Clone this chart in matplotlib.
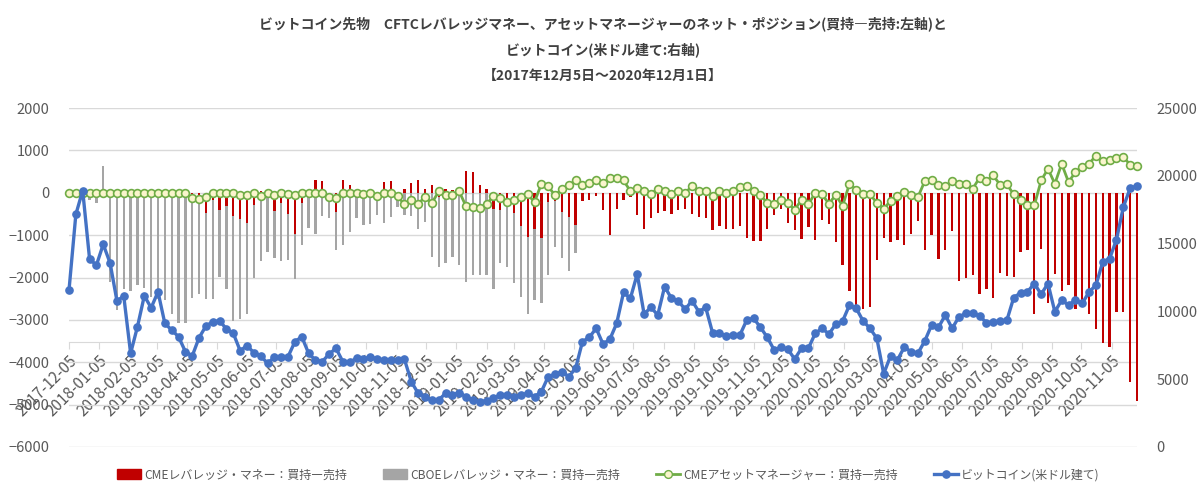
import numpy as np
import pandas as pd
import matplotlib
matplotlib.use('Agg')
import matplotlib.pyplot as plt
from matplotlib.patches import Patch
from matplotlib.lines import Line2D

plt.rcParams['font.family'] = ['Noto Sans CJK JP', 'DejaVu Sans']

# weekly dates, 2017-12-05 .. 2020-12-01
dates = pd.date_range('2017-12-05', periods=157, freq='7D')

# CME leveraged money, net (long - short)
cme_lev = ([0] * 18 +
           [-55, -260, -480, -160, -417, -322, -558, -628, -710, -282,
            45, 0, -432, -240, -511, -966, -240, 0, 306, 270] +
           [0, -460, 306, 190, 0, 0, 0, 0, 250, 270, 0, 94, 228, 310, 85,
            190, -110, 90, 55, 0, 503, 487, 192, 100, -393, -416, -200,
            -479, -794, -1050, -860, -1076, -220, -190, -447, -580, -750,
            -192, -160] +
           [-75, -397, -1005, -377, -180, -90, -527, -849, -605, -487, -436,
            -495, -409, -377, -511, -566, -589, -888, -790, -849, -860, -778,
            -1076, -1139, -1143, -860, -534, -393, -715, -880, -1098, -807,
            -1105, -651, -745, -1160, -1712, -2330, -2700, -2750, -2700] +
           [-1592, -1058, -1160, -1121, -1223, -964, -666, -1356, -988,
            -1552, -1356, -902, -2074, -2004, -1950, -2395, -2274, -2475,
            -1902, -1972, -1980, -1396, -1356, -2850, -1317, -2600, -1918,
            -2330, -2184, -2733, -2705, -2850, -3205, -3550, -3645, -2811,
            -2811, -4457, -4904])

# CBOE leveraged money, net (stops mid 2019)
cboe_lev = ([0, 0, 0, -165, -244, 622, -2100, -2770, -2280, -2310, -2180,
             -2250, -2450, -2500, -2520, -2850, -3080, -3080, -2490, -2390,
             -2510, -2510, -1990, -2280, -3020, -2990, -2870, -2010] +
            [-1600, -1400, -1540, -1600, -1580, -2030, -1240, -830, -970, -560] +
            [-600, -1340, -1240, -930, -600, -760, -730, -520, -720, -570,
             -340, -530, -560, -850, -700, -1520, -1750, -1650, -1520, -1700,
             -2100, -1940, -1940, -1950, -2280, -1650, -1750, -2140, -2450,
             -2860, -2530, -2600, -1950, -1280, -1550, -1850, -1420] +
            [np.nan] * 82)

# CME asset manager, net
cme_am = ([0] * 18 +
          [-130, -140, -110, 0, 0, 0, 0, -60, -60, 0, -70, 0, -60, 0, -40,
           -60, 0, 0, 0, 0, -90, -118, 0, 0, 0, -39, 0, -71, 0, 0, -86] +
          [-275, -181, -260, -102, -244, 31, -63, -63, 31, -323, -338, -354,
           -260, -87, -118, -220, -181, -102, -39, -220, 213, 150, -63, 94,
           173, 291, 189, 228] +
          [307, 228, 346, 346, 291, 39, 118, 39, -24, 94, 31, -24, 31, 0,
           150, 39, 39, -71, 39, 0, 39, 134, 150, 39, -63, -236, -260, -165,
           -236, -402] +
          [-165, -274, 0, -39, -259, -47, -314, 212] +
          [70, -24, -39, -235, -376, -196, -86, 16, -63, -102, 274, 306, 172,
           157, 267, 212, 212, 94, 353, 274, 408, 188, 196, -39, -165, -298,
           -298, 290, 564, 212, 682, 251, 486, 619, 682, 878, 745, 776, 823,
           839, 666, 627])

# bitcoin price in USD
btc = ([11564, 17150, 18914, 13890, 13400, 14945, 13573, 10780, 11123, 6909,
        8869, 11148, 10266, 11442, 9114, 8624, 8134, 7032, 6713, 8060, 8918,
        9237, 9310, 8698, 8379, 7105, 7473, 6958, 6713, 6174, 6615, 6664,
        6664, 7767, 8134, 6908, 6400, 6300, 6859] +
       [7277, 6297, 6250, 6540, 6500, 6640, 6500, 6420, 6400, 6400, 6466] +
       [4818, 3958, 3712, 3466, 3466, 3958, 3835, 4007, 3712, 3466, 3343,
        3417, 3589, 3835, 3835, 3663, 3835, 3958, 3712, 4081, 5187, 5359,
        5556, 5187, 5801, 7768, 8088, 8752, 7597, 7941, 9121, 11406, 10963,
        12759] +
       [9808, 10299, 9734, 11824, 10963, 10767, 10152, 10791, 9980, 10299,
        8432, 8383, 8186, 8260, 8260, 9366, 9489, 8825, 8088, 7154, 7350,
        7203, 6490, 7277, 7277, 8379, 8747, 8330, 9065, 9286, 10462, 10216,
        9286, 8747, 8012, 5400] +
       [6713, 6419, 7350, 7032, 6909, 7816, 8992, 8820, 9727, 8747, 9604,
        9849, 9849, 9678, 9163, 9237, 9286, 9359, 11025, 11368, 11442, 12054,
        11270, 12054, 9972, 10829, 10462, 10829, 10584, 11442, 11932, 13647,
        13892, 15288, 17689, 19086, 19233])

assert len(cme_lev) == len(cboe_lev) == len(cme_am) == len(btc) == len(dates)

tick_dates = [pd.Timestamp(2017 + (11 + k) // 12, (11 + k) % 12 + 1, 5) for k in range(36)]
tick_labels = [d.strftime('%Y-%m-%d') for d in tick_dates]

labels = ['CMEレバレッジ・マネー：買持―売持', 'CBOEレバレッジ・マネー：買持―売持',
          'CMEアセットマネージャー：買持―売持', 'ビットコイン(米ドル建て)']
title_lines = ['ビットコイン先物　CFTCレバレッジマネー、アセットマネージャーのネット・ポジション(買持―売持:左軸)と',
               'ビットコイン(米ドル建て:右軸)',
               '【2017年12月5日～2020年12月1日】']

RED = '#C00000'
GREY = '#A5A5A5'
GREEN = '#70AD47'
BLUE = '#4472C4'
TXT = '#595959'
GRID = '#D9D9D9'
CREAM = '#FAF5CC'

fig = plt.figure(figsize=(12, 4.97), dpi=100)
ax = fig.add_axes([69 / 1200, 1 - 447 / 497, 1068 / 1200, 339 / 497])
ax2 = ax.twinx()

bw = 2.4
ax.bar(dates, cboe_lev, width=bw, color=GREY, zorder=2, clip_on=False)
ax.bar(dates, cme_lev, width=bw, color=RED, zorder=3, clip_on=False)
ax.plot(dates, cme_am, color=GREEN, lw=2.0, marker='o', ms=5.6,
        mfc=CREAM, mec=GREEN, mew=1.2, zorder=4, clip_on=False)
ax2.plot(dates, btc, color=BLUE, lw=2.4, marker='o', ms=5.2,
         mfc=BLUE, mec=BLUE, zorder=4, clip_on=False)

ax.set_xlim(dates[0], dates[-1])
ax.set_ylim(-6000, 2000)
ax.set_yticks(range(-6000, 2001, 1000))
ax2.set_ylim(0, 25000)
ax2.set_yticks(range(0, 25001, 5000))

ax.grid(axis='y', color=GRID, lw=1, zorder=0)
ax.set_axisbelow(True)
for s in ['top', 'left', 'right']:
    ax.spines[s].set_visible(False)
for s in ax2.spines.values():
    s.set_visible(False)

# category axis crosses the chart inside the plot area
ax.spines['bottom'].set_position(('data', -3530))
ax.spines['bottom'].set_color(GRID)
ax.spines['bottom'].set_zorder(0.5)
ax.set_xticks(tick_dates)
ax.set_xticklabels(tick_labels)
ax.tick_params(axis='x', length=5, color=GRID, labelcolor=TXT, labelsize=11, pad=2)
for lab in ax.get_xticklabels():
    lab.set_rotation(45)
    lab.set_ha('right')
    lab.set_rotation_mode('anchor')

ax.tick_params(axis='y', length=0, labelcolor=TXT, labelsize=10.5, pad=14)
ax2.tick_params(axis='y', length=0, labelcolor=TXT, labelsize=10.5, pad=14)

for k, line in enumerate(title_lines):
    fig.text(0.5025, 1 - (24 + 26 * k) / 497, line, ha='center', va='center',
             fontsize=10, fontweight='bold', color='#404040')

handles = [Patch(color=RED), Patch(color=GREY),
           Line2D([], [], color=GREEN, lw=2.0, marker='o', ms=5.6, mfc=CREAM, mec=GREEN),
           Line2D([], [], color=BLUE, lw=2.4, marker='o', ms=5.2, mfc=BLUE)]
fig.legend(handles, labels, loc='center', bbox_to_anchor=(0.507, 1 - 475 / 497),
           ncol=4, frameon=False, fontsize=8.6, labelcolor=TXT,
           handlelength=2.0, handleheight=0.9, handletextpad=0.3, columnspacing=3.0)

fig.savefig('out.png', dpi=100)
